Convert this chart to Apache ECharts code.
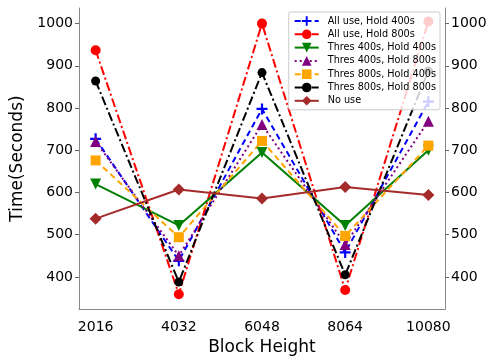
<!DOCTYPE html>
<html>
<head>
<meta charset="utf-8">
<script src="https://cdn.jsdelivr.net/npm/echarts@6/dist/echarts.min.js"></script>
<style>
  html, body { margin: 0; padding: 0; background: #fff; }
  #container { width: 494px; height: 361px; }
</style>
</head>
<body>
<div id="container"></div>
<script>
// x positions (block height)
var heights = [2016, 4032, 6048, 8064, 10080];
var yTicks = [400, 500, 600, 700, 800, 900, 1000];

var allUse400 = [727, 438, 798, 458, 815];
var allUse800 = [937, 359, 1000, 369, 1005];
var thres400hold400 = [620, 522, 695, 522, 700];
var thres400hold800 = [721, 450, 761, 477, 769];
var thres800hold400 = [676, 494, 722, 497, 711];
var thres800hold800 = [864, 388, 884, 405, 888];
var noUse = [538, 607, 586, 613, 594];

var plusPath = "path://M4,0H6V4H10V6H6V10H4V6H0V4H4Z";
var dashDot = [9, 3, 2, 3];

function pairs(vals) {
    return heights.map(function(h, i) { return [h, vals[i]]; });
}

function mkSeries(name, vals, color, lineType, symbol, size, rotate) {
    return {
        type: "line",
        name: name,
        data: pairs(vals),
        yAxisIndex: 0,
        symbol: symbol,
        symbolSize: size,
        symbolRotate: rotate || 0,
        showAllSymbol: true,
        lineStyle: { color: color, width: 2, type: lineType },
        itemStyle: { color: color },
        emphasis: { disabled: true },
        animation: false
    };
}

var axisFont = { fontFamily: "DejaVu Sans", fontSize: 14, color: "#000" };
function plain(v) { return String(v); } // 不要千位分隔符

window.onload = function() {
    var myChart = echarts.init(document.getElementById("container"));

    var yAxisBase = {
        type: "value",
        min: 324,
        max: 1037,
        axisLine: { show: true, lineStyle: { color: "#888", width: 1 } },
        axisTick: { show: true, length: 4, lineStyle: { color: "#666" }, customValues: yTicks },
        axisLabel: Object.assign({ customValues: yTicks, margin: 6, formatter: plain }, axisFont),
        splitLine: { show: false }
    };

    myChart.setOption({
        backgroundColor: "#fff",
        grid: { left: 79, right: 49, top: 8, bottom: 43 },
        legend: {
            right: 54,
            top: 12,
            orient: "vertical",
            itemGap: 3.3,
            itemWidth: 24,
            itemHeight: 12,
            padding: [4, 4, 4, 5],
            backgroundColor: "rgba(255,255,255,0.8)",
            borderColor: "#ccc",
            borderWidth: 1,
            borderRadius: 2,
            textStyle: { fontFamily: "DejaVu Sans", fontSize: 9.7, color: "#000", padding: [0, 0, 0, 4] },
            data: ["All use, Hold 400s", "All use, Hold 800s", "Thres 400s, Hold 400s",
                   "Thres 400s, Hold 800s", "Thres 800s, Hold 400s", "Thres 800s, Hold 800s", "No use"]
        },
        xAxis: {
            type: "value",
            min: 1613,
            max: 10483,
            name: "Block Height",
            nameLocation: "middle",
            nameGap: 30,
            nameTextStyle: { fontFamily: "DejaVu Sans", fontSize: 17, color: "#000" },
            axisLine: { show: true, onZero: false, lineStyle: { color: "#888", width: 1 } },
            axisTick: { show: false },
            axisLabel: Object.assign({ customValues: heights, margin: 11, formatter: plain }, axisFont),
            splitLine: { show: false }
        },
        yAxis: [
            Object.assign({}, yAxisBase, {
                position: "left",
                name: "Time(Seconds)",
                nameLocation: "middle",
                nameGap: 41,
                nameTextStyle: { fontFamily: "DejaVu Sans", fontSize: 17, color: "#000" }
            }),
            Object.assign({}, yAxisBase, { position: "right" })
        ],
        series: [
            mkSeries("All use, Hold 400s", allUse400, "#0000ff", [6, 4], plusPath, 11),
            mkSeries("All use, Hold 800s", allUse800, "#ff0000", dashDot, "circle", 10),
            mkSeries("Thres 400s, Hold 400s", thres400hold400, "#008000", "solid", "triangle", 11, 180),
            mkSeries("Thres 400s, Hold 800s", thres400hold800, "#800080", [2, 3], "triangle", 11),
            mkSeries("Thres 800s, Hold 400s", thres800hold400, "#ffa500", [6, 4], "rect", 10),
            mkSeries("Thres 800s, Hold 800s", thres800hold800, "#000000", dashDot, "circle", 9),
            mkSeries("No use", noUse, "#a52a2a", "solid", "diamond", 12)
        ]
    });
};
</script>
</body>
</html>
